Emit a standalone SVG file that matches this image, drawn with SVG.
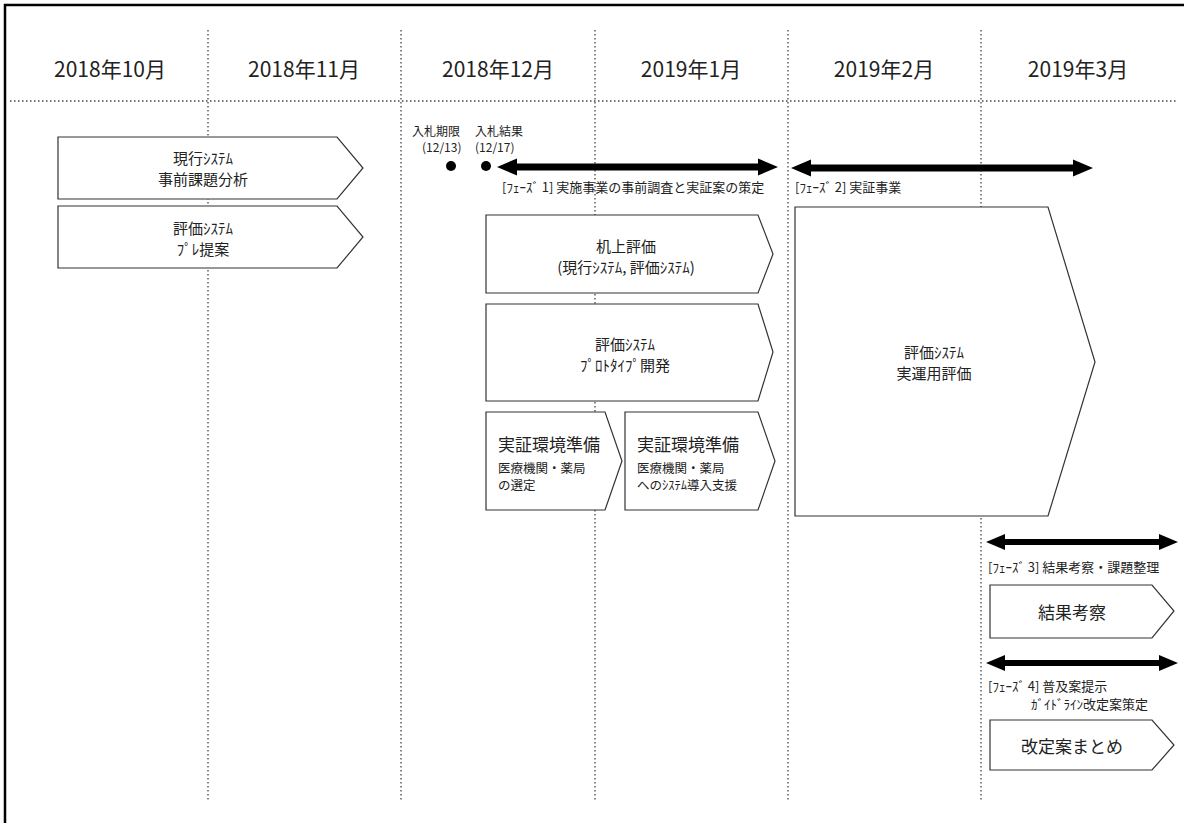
<svg xmlns="http://www.w3.org/2000/svg" width="1184" height="823" viewBox="0 0 1184 823">
<style>
.bg{fill:#fff}
.frame{fill:none;stroke:#000;stroke-width:2.5}
.grid{stroke:#444;stroke-width:1.3;stroke-dasharray:1.5 2.5;fill:none}
.box{fill:#fff;stroke:#333;stroke-width:1.2}
.t{font-family:"Noto Sans CJK JP","Noto Sans",sans-serif;fill:#222}
.m{font-size:21px;text-anchor:middle}
.n{font-size:15px;text-anchor:middle}
.s{font-size:13px}
.ms{font-size:12px}
.h{font-size:17px}
.sub{font-size:12.5px}
.dbl{fill:#000}
</style>
<rect class="bg" x="0" y="0" width="1184" height="823"/>
<rect class="frame" x="5" y="5" width="1185" height="825"/>
<g id="grid">
<line class="grid" x1="10" y1="101" x2="1178" y2="101"/>
<line class="grid" x1="208" y1="30" x2="208" y2="800"/>
<line class="grid" x1="401" y1="30" x2="401" y2="800"/>
<line class="grid" x1="595" y1="30" x2="595" y2="800"/>
<line class="grid" x1="788" y1="30" x2="788" y2="800"/>
<line class="grid" x1="981" y1="30" x2="981" y2="800"/>
</g>
<g id="months">
<text class="t m" x="110" y="77">2018年10月</text>
<text class="t m" x="304" y="77">2018年11月</text>
<text class="t m" x="498" y="77">2018年12月</text>
<text class="t m" x="691" y="77">2019年1月</text>
<text class="t m" x="884" y="77">2019年2月</text>
<text class="t m" x="1078" y="77">2019年3月</text>
</g>
<g id="node-genko">
<polygon class="box" points="58,137 337,137 363,168 337,199 58,199"/>
<text class="t n" x="203" y="164">現行ｼｽﾃﾑ</text>
<text class="t n" x="203" y="185">事前課題分析</text>
</g>
<g id="node-pre">
<polygon class="box" points="58,206 337,206 363,237 337,268 58,268"/>
<text class="t n" x="203" y="234">評価ｼｽﾃﾑ</text>
<text class="t n" x="203" y="255">ﾌﾟﾚ提案</text>
</g>
<g id="milestones">
<text class="t ms" x="412" y="136">入札期限</text>
<text class="t ms" x="422" y="152">(12/13)</text>
<text class="t ms" x="475" y="136">入札結果</text>
<text class="t ms" x="475" y="152">(12/17)</text>
<circle cx="451" cy="166" r="5" fill="#000"/>
<circle cx="486" cy="166" r="5" fill="#000"/>
</g>
<g id="connectors">
<polygon class="dbl" points="497,167 517,158.5 517,163.5 758,163.5 758,158.5 778,167 758,175.5 758,170.5 517,170.5 517,175.5"/>
<polygon class="dbl" points="791,168 811,159.5 811,164.5 1073,164.5 1073,159.5 1093,168 1073,176.5 1073,171.5 811,171.5 811,176.5"/>
<polygon class="dbl" points="986,542 1005,534 1005,539 1159,539 1159,534 1178,542 1159,550 1159,545 1005,545 1005,550"/>
<polygon class="dbl" points="986,663 1005,655 1005,660 1159,660 1159,655 1178,663 1159,671 1159,666 1005,666 1005,671"/>
</g>
<g id="phase-labels">
<text class="t s" x="502" y="192">[ﾌｪｰｽﾞ 1] 実施事業の事前調査と実証案の策定</text>
<text class="t s" x="795" y="192">[ﾌｪｰｽﾞ 2] 実証事業</text>
<text class="t s" x="988" y="572">[ﾌｪｰｽﾞ 3] 結果考察・課題整理</text>
<text class="t s" x="988" y="691">[ﾌｪｰｽﾞ 4] 普及案提示</text>
<text class="t s" x="1031" y="709">ｶﾞｲﾄﾞﾗｲﾝ改定案策定</text>
</g>
<g id="node-kijo">
<polygon class="box" points="486,215 758,215 773,254 758,293 486,293"/>
<text class="t n" x="626" y="252">机上評価</text>
<text class="t n" x="626" y="273">(現行ｼｽﾃﾑ, 評価ｼｽﾃﾑ)</text>
</g>
<g id="node-proto">
<polygon class="box" points="486,304 758,304 773,352 758,401 486,401"/>
<text class="t n" x="625" y="350">評価ｼｽﾃﾑ</text>
<text class="t n" x="625" y="371">ﾌﾟﾛﾄﾀｲﾌﾟ開発</text>
</g>
<g id="node-env1">
<polygon class="box" points="486,412 605,412 622,461 605,510 486,510"/>
<text class="t h" x="498" y="451">実証環境準備</text>
<text class="t sub" x="498" y="473">医療機関・薬局</text>
<text class="t sub" x="498" y="490">の選定</text>
</g>
<g id="node-env2">
<polygon class="box" points="625,412 758,412 775,461 758,510 625,510"/>
<text class="t h" x="637" y="451">実証環境準備</text>
<text class="t sub" x="637" y="473">医療機関・薬局</text>
<text class="t sub" x="637" y="490">へのｼｽﾃﾑ導入支援</text>
</g>
<g id="node-jitsu">
<polygon class="box" points="795,207 1048,207 1095,362 1048,516 795,516"/>
<text class="t n" x="934" y="358">評価ｼｽﾃﾑ</text>
<text class="t n" x="934" y="379">実運用評価</text>
</g>
<g id="node-kekka">
<polygon class="box" points="990,585 1152,585 1174,611 1152,638 990,638"/>
<text class="t h" x="1072" y="619" text-anchor="middle">結果考察</text>
</g>
<g id="node-kaitei">
<polygon class="box" points="990,720 1152,720 1174,745 1152,770 990,770"/>
<text class="t h" x="1072" y="753" text-anchor="middle">改定案まとめ</text>
</g>
</svg>
